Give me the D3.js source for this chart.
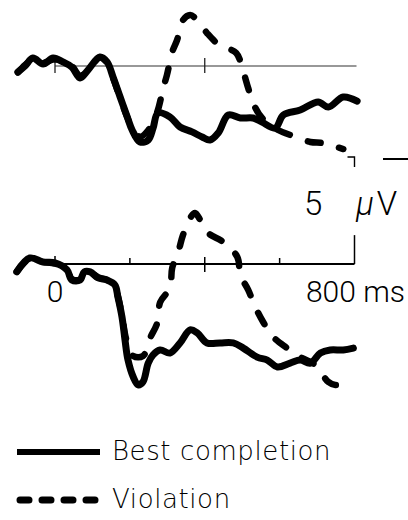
<!DOCTYPE html>
<html>
<head>
<meta charset="utf-8">
<script src="https://cdn.jsdelivr.net/npm/d3@7/dist/d3.min.js"></script>
<style>
html,body{margin:0;padding:0;background:#fff;}
svg{display:block;}
</style>
</head>
<body>
<svg id="chart" width="408" height="520"></svg>
<script>
// ---- Data (time in ms, amplitude in µV; negative plotted upward) ----
const xTicks = [0, 200, 400, 600, 800];
const xTickLabels = ["0", "800 ms"];
const scaleLabel = "5";
const scaleUnit = ["µ", "V"];
const seriesNames = ["Best completion", "Violation"];

const topBest = [[-99,0.28],[-80,0.0],[-59,-0.37],[-32,-0.09],[-5,-0.37],[21,-0.19],[45,0.05],[67,0.56],[88,0.19],[120,-0.42],[139,-0.19],[155,0.51],[174,1.45],[193,2.38],[206,2.99],[227,3.55],[249,3.46],[262,2.9],[275,2.2],[307,2.38],[334,2.85],[366,3.08],[393,3.32],[414,3.46],[436,3.13],[463,2.29],[495,2.43],[529,2.43],[553,2.62],[588,2.9],[610,2.29],[655,2.06],[703,1.68],[730,1.92],[770,1.45],[807,1.64]];
const topViol = [[-99,0.3],[-80,-0.05],[-59,-0.3],[-32,-0.15],[-5,-0.3],[21,-0.25],[45,0.0],[67,0.45],[88,0.2],[120,-0.4],[139,-0.15],[155,0.55],[174,1.5],[193,2.4],[206,2.9],[227,3.3],[249,3.0],[273,2.15],[289,1.03],[299,0.42],[313,-0.65],[326,-1.21],[342,-2.15],[361,-2.38],[377,-2.2],[406,-1.54],[439,-0.98],[484,-0.61],[500,0.09],[516,1.03],[529,1.73],[553,2.43],[596,2.99],[636,3.27],[682,3.55],[714,3.6],[743,3.74],[770,3.88]];
const botBest = [[-102,0.37],[-67,-0.28],[-32,-0.09],[0,-0.05],[32,0.28],[45,0.75],[67,0.75],[78,0.37],[94,0.37],[115,0.65],[139,0.75],[160,0.98],[168,1.54],[179,2.48],[187,3.55],[195,4.49],[209,5.28],[222,5.65],[235,5.51],[249,4.63],[262,4.25],[281,4.02],[307,4.16],[334,3.69],[361,3.08],[380,3.22],[406,3.69],[441,3.69],[476,3.69],[503,3.93],[540,4.35],[567,4.49],[594,4.81],[628,4.63],[655,4.49],[682,4.63],[709,4.16],[735,4.02],[770,4.02],[797,3.93]];
const botViol = [[-102,0.35],[-67,-0.25],[-32,-0.1],[0,-0.02],[32,0.3],[45,0.7],[67,0.72],[78,0.4],[94,0.4],[115,0.62],[139,0.75],[160,1.0],[168,1.5],[179,2.4],[190,3.5],[209,4.3],[235,4.3],[254,3.46],[273,2.76],[281,1.78],[307,1.12],[313,0.19],[329,-0.56],[342,-1.36],[361,-2.15],[374,-2.38],[388,-2.06],[409,-1.45],[449,-1.03],[487,-0.33],[495,0.51],[516,1.21],[535,2.01],[556,2.71],[583,3.41],[620,3.93],[655,4.35],[695,4.72],[730,5.51],[749,5.65],[770,5.56]];

// ---- Layout ----
const svg = d3.select("#chart");
const x = d3.scaleLinear().domain([0, 800]).range([55, 354.5]);
const topBase = 66, botBase = 264;
const pxPerUV = 21.4;
const yTop = d3.scaleLinear().domain([-5, 5]).range([topBase - 5*pxPerUV, topBase + 5*pxPerUV]);
const yBot = d3.scaleLinear().domain([-5, 5]).range([botBase - 5*pxPerUV, botBase + 5*pxPerUV]);

// Top panel baseline
svg.append("line").attr("x1", x(0)).attr("x2", x(800)+2).attr("y1", yTop(0)).attr("y2", yTop(0))
  .attr("stroke", "#333").attr("stroke-width", 1.2);
[0, 400].forEach(t => {
  svg.append("line").attr("x1", x(t)).attr("x2", x(t)).attr("y1", yTop(0)-8).attr("y2", yTop(0)+7)
    .attr("stroke", "#222").attr("stroke-width", 1.3);
});

// Bottom panel axis
svg.append("line").attr("x1", x(0)).attr("x2", x(800)).attr("y1", yBot(0)).attr("y2", yBot(0))
  .attr("stroke", "#000").attr("stroke-width", 2);
xTicks.forEach(t => {
  const up = t === 400 ? 7 : (t === 0 ? 8 : 6);
  const down = t === 400 ? 8 : 0;
  if (t === 800) return;
  svg.append("line").attr("x1", x(t)).attr("x2", x(t)).attr("y1", yBot(0)-up).attr("y2", yBot(0)+down)
    .attr("stroke", "#000").attr("stroke-width", 1.5);
});

// Calibration bar (5 µV): from bottom baseline up to top tick, broken by label
svg.append("line").attr("x1", x(800)).attr("x2", x(800)).attr("y1", yBot(0)).attr("y2", yBot(-1.35))
  .attr("stroke", "#000").attr("stroke-width", 1.5);
svg.append("path")
  .attr("d", `M${x(800)-7},${yBot(-5)} H${x(800)} V${yBot(-5)+10}`)
  .attr("fill", "none").attr("stroke", "#000").attr("stroke-width", 1.4);
svg.append("line").attr("x1", 383).attr("x2", 408).attr("y1", yBot(-5)+2).attr("y2", yBot(-5)+2)
  .attr("stroke", "#000").attr("stroke-width", 2);

// Labels
const fontFam = "Roboto, 'Liberation Sans', sans-serif";
svg.append("text").attr("x", x(0)).attr("y", 302).attr("text-anchor", "middle")
  .attr("font-family", fontFam).attr("font-weight", 300).attr("font-size", 30).text(xTickLabels[0]);
svg.append("text").attr("x", 405).attr("y", 302).attr("text-anchor", "end")
  .attr("font-family", fontFam).attr("font-weight", 300).attr("font-size", 30).text(xTickLabels[1]);
svg.append("text").attr("x", 304).attr("y", 215)
  .attr("font-family", fontFam).attr("font-weight", 300).attr("font-size", 33).text(scaleLabel);
const unit = svg.append("text").attr("x", 356).attr("y", 215)
  .attr("font-family", fontFam).attr("font-weight", 300).attr("font-size", 33);
unit.append("tspan").attr("font-style", "italic").text(scaleUnit[0]);
unit.append("tspan").attr("dx", 3).text(scaleUnit[1]);

// Lines
const line = (ys) => d3.line().x(d => x(d[0])).y(d => ys(d[1])).curve(d3.curveCatmullRom.alpha(0.5));
const dashArr = "13,19";
function drawSeries(data, ys, dashed) {
  svg.append("path").datum(data).attr("d", line(ys))
    .attr("fill", "none").attr("stroke", "#000")
    .attr("stroke-width", dashed ? 6.5 : 7)
    .attr("stroke-linecap", "round").attr("stroke-linejoin", "round")
    .attr("stroke-dasharray", dashed ? dashArr : null);
}
drawSeries(topViol, yTop, true);
drawSeries(topBest, yTop, false);
drawSeries(botViol, yBot, true);
drawSeries(botBest, yBot, false);

// Legend
const legY = [452, 500];
svg.append("line").attr("x1", 17).attr("x2", 100).attr("y1", legY[0]).attr("y2", legY[0])
  .attr("stroke", "#000").attr("stroke-width", 6);
svg.append("line").attr("x1", 20).attr("x2", 100).attr("y1", legY[1]).attr("y2", legY[1])
  .attr("stroke", "#000").attr("stroke-width", 7).attr("stroke-linecap", "round")
  .attr("stroke-dasharray", "9,13");
const legFont = "'DejaVu Sans', sans-serif";
seriesNames.forEach((name, i) => {
  svg.append("text").attr("x", 112).attr("y", [460, 508][i]).attr("font-family", legFont).attr("font-weight", 200)
    .attr("font-size", 26).attr("letter-spacing", 0.6).text(name);
});
</script>
</body>
</html>
